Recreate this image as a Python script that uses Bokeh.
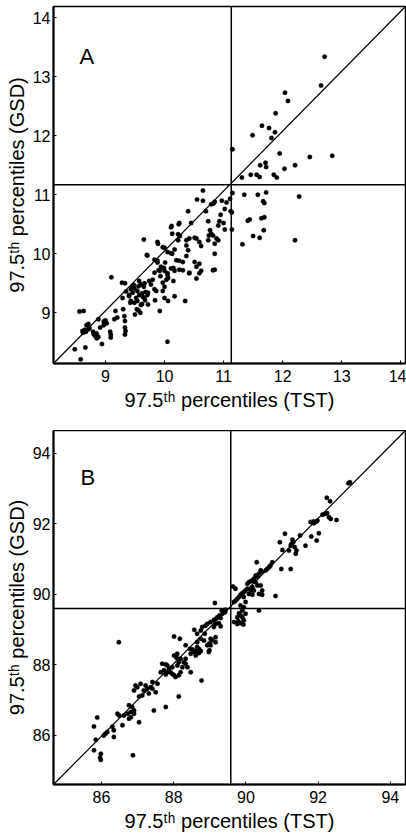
from bokeh.plotting import figure
from bokeh.models import Span, Label, Range1d, FixedTicker
from bokeh.layouts import column
from bokeh.embed import file_html
from bokeh.resources import INLINE

# ---------------- data ----------------
x_label = "97.5ᵗʰ percentiles (TST)"
y_label = "97.5ᵗʰ percentiles (GSD)"

# Panel A: (TST, GSD) pairs
a_points = [
    (8.48, 8.38), (8.58, 8.21), (8.56, 9.02), (8.63, 9.03), (8.66, 8.41), (8.62, 8.66),
    (8.67, 8.68), (8.71, 8.81), (8.71, 8.72), (8.61, 8.69), (8.65, 8.71), (8.73, 8.74),
    (8.68, 8.79), (8.79, 8.68),
    (8.80, 8.64), (8.83, 8.60), (8.86, 8.58), (8.82, 8.62), (8.85, 8.65), (8.88, 8.59),
    (8.85, 8.57), (8.91, 8.75), (8.97, 8.79), (8.97, 8.85), (9.00, 8.87), (8.88, 8.89),
    (9.02, 8.82), (8.94, 8.47), (9.09, 8.63), (9.09, 8.58), (9.08, 8.68),
    (9.10, 9.60), (9.17, 9.03), (9.20, 8.92), (9.15, 8.89),
    (9.28, 9.51), (9.29, 9.25), (9.30, 9.06), (9.32, 8.94), (9.33, 8.86), (9.33, 8.75),
    (9.34, 8.69), (9.33, 8.63), (9.40, 9.28), (9.43, 9.20), (9.43, 9.40), (9.46, 9.34),
    (9.49, 9.41), (9.46, 9.45), (9.54, 9.37), (9.52, 9.25), (9.49, 9.17), (9.54, 9.20),
    (9.56, 9.45), (9.57, 9.54), (9.53, 9.06), (9.50, 8.97), (9.59, 9.00), (9.60, 9.13),
    (9.33, 9.50), (9.48, 9.47), (9.60, 9.48), (9.65, 9.44), (9.66, 9.50), (9.62, 9.33),
    (9.68, 9.35), (9.71, 9.30), (9.40, 9.30), (9.57, 9.30), (9.63, 9.27), (9.67, 9.21),
    (9.35, 9.36), (9.42, 9.17), (9.56, 9.04), (9.62, 9.15),
    (9.65, 10.24), (9.70, 9.98), (9.72, 9.34), (9.66, 9.25), (9.72, 9.14), (9.74, 9.54),
    (9.77, 9.48), (9.80, 9.56), (9.83, 9.40), (9.84, 9.21), (9.86, 9.37), (9.89, 10.17),
    (9.92, 9.03), (9.88, 9.85), (9.92, 9.71), (9.93, 9.62), (9.97, 9.51), (9.97, 9.37),
    (10.00, 9.44), (10.00, 9.25), (9.99, 9.76), (10.01, 9.85), (10.03, 9.56), (10.05, 9.64),
    (10.00, 10.10), (10.06, 9.59), (10.05, 8.51), (10.06, 9.20), (9.71, 9.97), (9.83, 9.90),
    (9.88, 9.88), (9.94, 9.78), (10.00, 9.71), (9.83, 9.68), (9.90, 9.72), (9.88, 10.20),
    (9.97, 10.11), (10.05, 10.03),
    (10.11, 10.45), (10.12, 10.47), (10.13, 10.00), (10.15, 9.76), (10.15, 9.54),
    (10.17, 9.71), (10.17, 9.28), (10.20, 9.89), (10.23, 10.23), (10.24, 10.50),
    (10.26, 10.30), (10.25, 10.52), (10.13, 10.34), (10.23, 10.33), (10.11, 10.01),
    (10.17, 10.07), (10.25, 9.88), (10.31, 9.86), (10.25, 9.73), (10.31, 9.72),
    (10.11, 9.75), (10.05, 9.67), (10.42, 10.26), (10.54, 10.26), (10.51, 10.27),
    (10.37, 10.23), (10.37, 10.14), (10.40, 10.06), (10.37, 9.96), (10.40, 10.72),
    (10.45, 10.52), (10.51, 9.86), (10.59, 9.83), (10.54, 9.78), (10.42, 9.68),
    (10.59, 10.20), (10.62, 10.13), (10.62, 9.71), (10.35, 9.20), (10.54, 9.58),
    (10.59, 9.67), (10.42, 9.67),
    (10.65, 11.07), (10.55, 10.92), (10.65, 10.90), (10.97, 10.90), (11.05, 10.87),
    (11.11, 10.93), (10.79, 10.84), (10.85, 10.88), (10.70, 10.72), (11.02, 10.76),
    (10.95, 10.66), (10.93, 10.55), (11.00, 10.52), (10.91, 10.48), (11.02, 10.41),
    (11.14, 10.70), (11.14, 10.41), (10.74, 10.55), (10.77, 10.40), (10.79, 10.34),
    (10.75, 10.31), (10.82, 10.31), (10.88, 10.26), (10.91, 10.23), (10.85, 10.17),
    (10.74, 10.23), (10.85, 10.00), (10.82, 9.72), (10.85, 9.73), (11.15, 11.03),
    (10.83, 10.85),
    (11.32, 10.16), (11.41, 10.56), (11.44, 10.58), (11.50, 10.30), (11.61, 10.27),
    (11.64, 10.60), (11.69, 10.62), (11.68, 10.40), (11.69, 10.86), (12.21, 10.23),
    (11.35, 11.00), (11.58, 11.00), (11.72, 11.04), (11.67, 10.89), (12.28, 10.97),
    (11.12, 10.72),
    (12.71, 13.34), (12.65, 12.85), (12.04, 12.73), (12.09, 12.59), (11.88, 12.38),
    (11.49, 12.01), (11.65, 12.17), (11.77, 12.13), (11.87, 12.06), (11.81, 11.96),
    (11.15, 11.77), (11.95, 11.70), (12.46, 11.64), (12.84, 11.66), (11.71, 11.54),
    (11.72, 11.47), (11.62, 11.50), (12.03, 11.44), (12.21, 11.50), (11.46, 11.34),
    (11.56, 11.34), (11.61, 11.30), (11.85, 11.34), (11.90, 11.29), (11.31, 11.29),
]
a_x_range = [8.12, 14.08]
a_y_range = [8.14, 14.19]
a_ticks = [9, 10, 11, 12, 13, 14]
a_cut_x = 11.13
a_cut_y = 11.17

# Panel B: (TST, GSD) pairs
b_points = [
    (85.79, 86.25), (85.88, 86.50), (85.84, 85.87), (85.79, 85.57), (85.98, 85.47),
    (85.96, 85.36), (85.98, 85.30), (86.06, 85.99), (86.11, 86.04), (86.16, 86.09),
    (86.30, 86.24), (86.34, 86.14), (86.34, 85.95), (86.44, 86.61), (86.49, 86.56),
    (86.58, 86.28), (86.62, 86.56), (86.72, 86.61), (86.76, 86.85), (86.76, 86.47),
    (86.81, 86.66), (86.81, 86.51), (86.85, 86.80), (86.90, 86.70), (86.90, 86.61),
    (87.04, 86.37), (86.87, 85.43), (86.48, 88.64),
    (86.94, 87.41), (86.99, 87.36), (86.90, 87.27), (87.04, 87.10), (87.13, 87.13),
    (87.17, 87.27), (87.27, 87.32), (87.31, 87.18), (87.08, 87.46), (87.22, 87.41),
    (87.36, 87.36), (87.41, 87.51), (87.41, 87.32), (87.55, 87.46), (87.50, 87.22),
    (87.45, 86.70), (87.78, 86.80), (88.14, 87.10), (88.77, 87.55),
    (87.64, 87.79), (87.68, 88.03), (87.73, 87.84), (87.78, 88.01), (87.78, 87.72),
    (87.82, 87.98), (87.82, 87.79), (87.87, 87.89), (87.91, 87.79), (87.96, 87.74),
    (87.96, 87.93), (88.01, 87.70), (88.05, 87.65), (88.14, 87.70), (88.19, 87.79),
    (88.47, 87.79), (88.01, 88.26), (88.10, 88.31), (88.08, 88.20), (88.19, 88.17),
    (88.28, 88.07), (88.33, 88.03), (88.24, 87.93), (88.38, 87.93), (88.14, 88.07),
    (88.10, 87.98), (88.01, 88.80), (88.17, 88.74),
    (88.33, 88.55), (88.45, 88.45), (88.52, 88.43), (88.47, 88.31), (88.57, 88.36),
    (88.61, 88.39), (88.33, 88.17), (88.61, 88.26),
    (88.57, 88.99), (88.65, 88.88), (88.75, 88.97), (88.79, 89.07), (88.88, 89.11),
    (88.93, 89.16), (89.02, 89.21), (89.11, 89.07), (89.16, 89.16), (89.25, 89.18),
    (89.30, 89.09), (88.75, 88.74), (88.84, 88.69), (88.65, 88.64), (88.70, 88.45),
    (88.75, 88.39), (88.70, 88.33), (88.98, 88.60), (89.02, 88.55), (89.07, 88.69),
    (89.16, 88.64), (88.99, 88.41), (88.97, 88.36), (89.16, 88.78), (88.65, 88.50),
    (88.93, 88.55),
    (89.44, 89.56), (89.33, 89.54), (89.42, 89.49), (89.35, 89.45), (89.27, 89.40),
    (89.21, 89.35), (89.30, 89.33), (89.16, 89.30), (89.11, 89.26), (89.14, 89.75),
    (88.86, 88.88), (89.02, 88.74),
    (89.67, 89.21), (89.76, 89.16), (89.85, 89.18), (89.93, 89.14), (89.81, 89.46),
    (89.85, 89.40), (89.90, 89.35), (89.94, 89.26), (89.79, 89.24), (89.76, 89.35),
    (89.85, 89.68), (89.94, 89.63), (89.90, 89.54), (89.99, 89.45), (90.36, 89.54),
    (89.64, 90.22), (89.71, 90.16), (89.67, 89.78), (89.71, 89.82), (89.76, 89.87),
    (89.81, 89.92), (89.85, 89.99), (89.90, 90.03), (89.94, 90.06), (89.99, 90.11),
    (90.04, 90.16), (90.13, 90.11), (90.22, 90.11), (90.18, 90.20), (90.45, 89.99),
    (90.36, 90.01), (90.45, 90.11), (90.41, 90.25), (90.32, 90.25), (90.27, 90.34),
    (90.04, 90.30), (90.08, 90.34), (90.13, 90.37), (90.18, 90.39), (90.22, 90.44),
    (89.94, 89.92), (89.99, 89.78), (90.08, 90.01), (90.18, 89.99), (90.82, 89.95),
    (90.32, 90.49), (90.27, 90.53), (90.36, 90.58), (90.41, 90.68), (90.45, 90.63),
    (90.55, 90.68), (90.64, 90.77), (90.59, 90.72), (90.68, 90.82), (90.73, 90.91),
    (90.30, 90.91), (90.98, 90.72), (91.24, 90.72),
    (91.08, 91.72), (90.94, 91.48), (91.01, 91.26), (91.50, 91.67), (91.29, 91.55),
    (91.24, 91.38), (91.19, 91.24), (91.35, 91.34), (91.26, 91.43), (91.31, 91.48),
    (91.40, 91.24), (91.38, 91.15), (91.65, 91.38), (91.81, 91.64), (91.96, 91.53),
    (92.02, 91.73),
    (91.79, 92.05), (91.87, 92.07), (91.93, 92.05), (91.98, 92.09), (91.88, 92.02),
    (92.12, 92.26), (92.25, 92.30), (92.30, 92.19), (92.35, 92.14), (92.51, 92.11),
    (92.18, 92.28), (92.24, 92.74), (92.33, 92.64), (92.88, 93.18), (92.84, 93.15),
]
b_x_range = [84.67, 94.42]
b_y_range = [84.60, 94.65]
b_ticks = [86, 88, 90, 92, 94]
b_cut_x = 89.58
b_cut_y = 89.60

FONT = "Liberation Sans"


def make_panel(points, xr, yr, ticks, cut_x, cut_y, letter, letter_xy,
               height, border_top, border_bottom):
    xs = [p[0] for p in points]
    ys = [p[1] for p in points]
    p = figure(width=406, height=height, output_backend="svg", toolbar_location=None,
               x_range=Range1d(xr[0], xr[1]), y_range=Range1d(yr[0], yr[1]),
               min_border_left=53, min_border_right=1, min_border_top=border_top,
               min_border_bottom=border_bottom)
    p.grid.visible = False
    p.background_fill_color = "white"
    p.border_fill_color = "white"
    p.outline_line_color = "black"
    p.outline_line_width = 1.5
    p.outline_line_alpha = 1.0
    for ax in (p.xaxis[0], p.yaxis[0]):
        ax.ticker = FixedTicker(ticks=ticks)
        ax.axis_line_width = 2
        ax.axis_line_color = "black"
        ax.major_tick_in = 3
        ax.major_tick_out = 0
        ax.major_tick_line_color = "black"
        ax.minor_tick_line_color = None
        ax.major_label_text_font = FONT
        ax.major_label_text_font_size = "16px"
        ax.major_label_text_color = "black"
        ax.axis_label_text_font = FONT
        ax.axis_label_text_font_size = "20px"
        ax.axis_label_text_font_style = "normal"
        ax.axis_label_text_color = "black"
    p.xaxis.axis_label = x_label
    p.yaxis.axis_label = y_label
    p.xaxis.major_label_standoff = 6
    p.xaxis.axis_label_standoff = 4
    p.yaxis.major_label_standoff = 3
    p.yaxis.axis_label_standoff = 2

    # identity line drawn corner to corner of the plotting box
    p.line([xr[0], xr[1]], [yr[0], yr[1]], line_color="black", line_width=1.2)
    p.add_layout(Span(location=cut_x, dimension="height", line_color="black", line_width=1.5))
    p.add_layout(Span(location=cut_y, dimension="width", line_color="black", line_width=1.5))
    p.scatter(xs, ys, size=4.5, fill_color="black", line_color="black", line_width=0.3)
    p.add_layout(Label(x=letter_xy[0], y=letter_xy[1], text=letter, text_font=FONT,
                       text_font_size="22px", text_color="black",
                       text_baseline="alphabetic"))
    return p


pa = make_panel(a_points, a_x_range, a_y_range, a_ticks, a_cut_x, a_cut_y,
                "A", (8.56, 13.34), 430, 6, 67)
pb = make_panel(b_points, b_x_range, b_y_range, b_ticks, b_cut_x, b_cut_y,
                "B", (85.42, 93.31), 408, 0, 54)

layout = column(pa, pb, spacing=0)
open("out.html", "w").write(file_html(layout, INLINE))
